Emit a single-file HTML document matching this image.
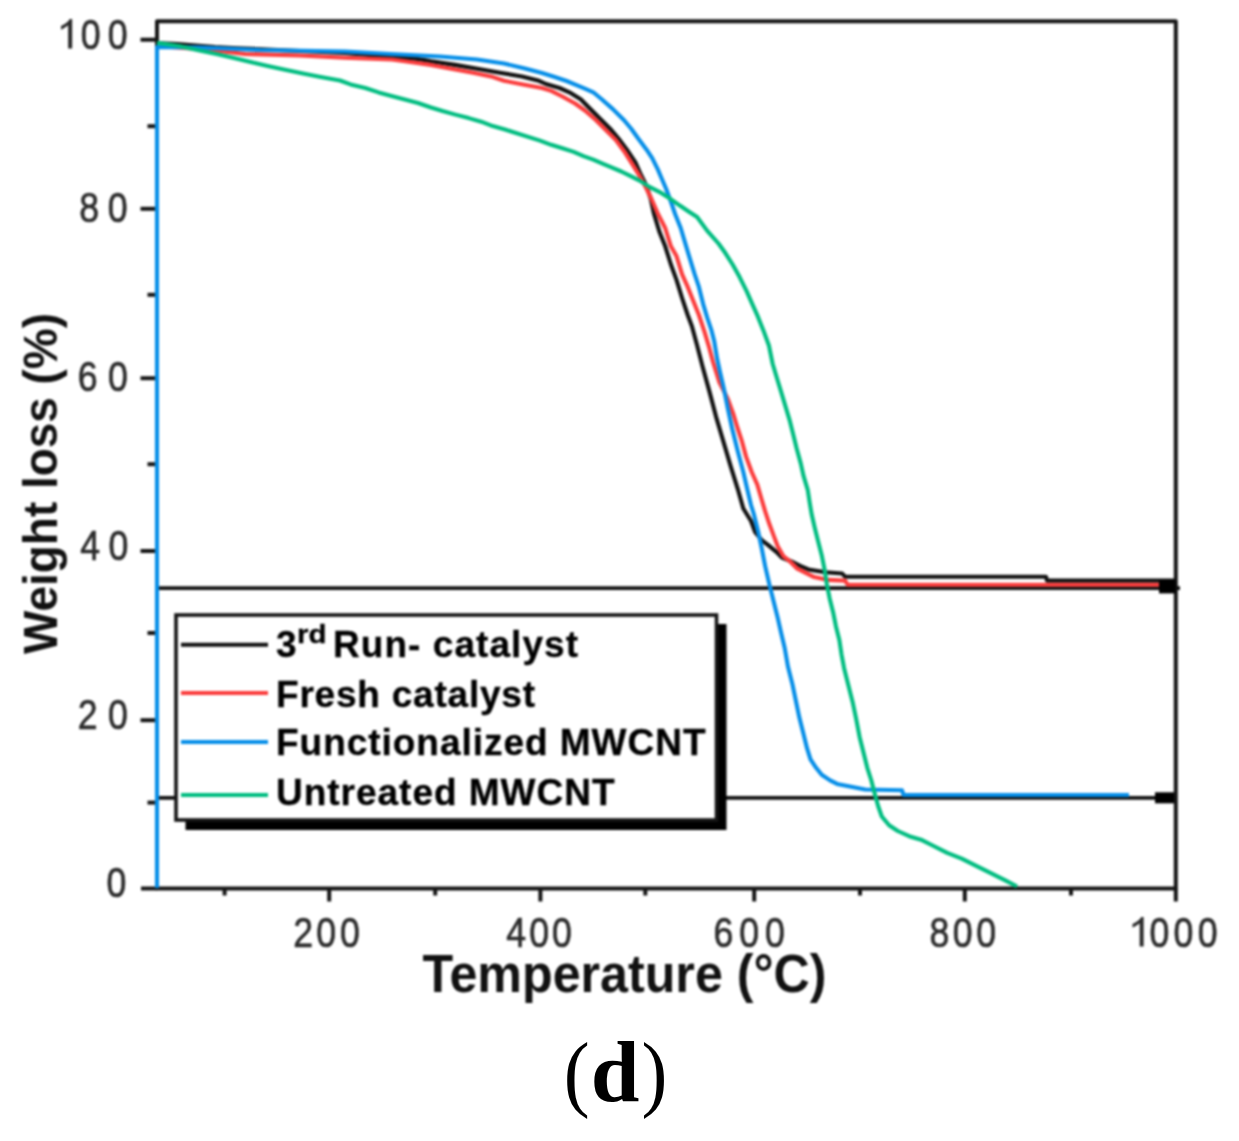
<!DOCTYPE html>
<html><head><meta charset="utf-8"><style>
html,body{margin:0;padding:0;background:#fff;overflow:hidden;}
svg{display:block;position:absolute;left:0;top:0;}
#chart{filter:blur(0.8px);}
</style></head><body>
<svg id="chart" width="1239" height="1141" viewBox="0 0 1239 1141">
<rect width="1239" height="1141" fill="#fff"/>
<g>
<g stroke="#151515" stroke-width="4" fill="none">
<path d="M157,888.5 L157,21.3 L1175.8,21.3 L1175.8,888.5 Z" stroke-linejoin="round"/>
<line x1="140.5" y1="39.7" x2="157" y2="39.7"/><line x1="140.5" y1="208.8" x2="157" y2="208.8"/><line x1="140.5" y1="378.2" x2="157" y2="378.2"/><line x1="140.5" y1="551.0" x2="157" y2="551.0"/><line x1="140.5" y1="720.2" x2="157" y2="720.2"/><line x1="147.5" y1="126.2" x2="157" y2="126.2"/><line x1="147.5" y1="294.8" x2="157" y2="294.8"/><line x1="147.5" y1="464.2" x2="157" y2="464.2"/><line x1="147.5" y1="633.0" x2="157" y2="633.0"/><line x1="147.5" y1="802.6" x2="157" y2="802.6"/><line x1="141" y1="888.5" x2="157" y2="888.5"/><line x1="329.2" y1="888.5" x2="329.2" y2="901.5"/><line x1="540.4" y1="888.5" x2="540.4" y2="901.5"/><line x1="754.2" y1="888.5" x2="754.2" y2="901.5"/><line x1="964.8" y1="888.5" x2="964.8" y2="901.5"/><line x1="1175.8" y1="888.5" x2="1175.8" y2="901.5"/><line x1="224.6" y1="888.5" x2="224.6" y2="895.5"/><line x1="435.2" y1="888.5" x2="435.2" y2="895.5"/><line x1="645.3" y1="888.5" x2="645.3" y2="895.5"/><line x1="860.0" y1="888.5" x2="860.0" y2="895.5"/><line x1="1071.0" y1="888.5" x2="1071.0" y2="895.5"/>
</g>
<g fill="none" stroke-linejoin="round" stroke-linecap="butt">
<line x1="157" y1="588.2" x2="1180" y2="588.2" stroke="#111" stroke-width="3.8"/>
<line x1="157" y1="797.8" x2="1175" y2="797.8" stroke="#111" stroke-width="3.8"/>
<polyline points="157.0,43.0 177.0,44.0 215.0,47.0 233.0,48.0 300.0,51.0 345.0,53.0 392.0,56.9 418.0,59.0 431.0,61.3 455.0,64.9 476.0,68.4 500.0,72.8 522.0,76.4 539.0,80.8 546.0,84.0 559.6,88.0 569.4,92.3 580.7,99.3 589.1,107.7 600.3,118.9 610.1,128.7 618.5,138.5 626.9,149.7 635.4,162.4 641.0,175.0 646.6,186.2 651.0,200.0 654.0,214.0 659.6,232.3 665.2,246.3 670.9,264.5 676.5,279.9 682.1,298.2 687.7,315.0 691.9,326.2 697.0,345.0 702.6,366.8 709.6,392.1 716.6,418.7 723.7,442.6 730.7,466.4 737.7,488.8 743.3,508.5 751.0,521.0 755.2,532.3 762.3,540.7 767.9,544.9 776.3,551.9 781.9,557.5 791.7,561.7 800.1,565.9 808.5,569.4 825.4,572.2 842.2,573.5 845.0,576.6 1046.0,576.8 1047.0,580.6 1175.0,580.6" stroke="#111" stroke-width="4.1"/>
<polyline points="157.0,46.0 211.0,50.0 245.0,54.0 300.0,55.5 345.0,57.8 392.0,59.5 405.0,61.3 431.0,64.9 454.0,69.3 473.0,72.8 491.0,76.4 504.0,80.8 523.0,84.4 542.0,88.0 551.2,90.9 562.4,96.5 575.1,103.5 584.9,110.5 596.1,120.3 605.9,130.1 615.7,139.9 624.1,151.2 631.2,162.4 638.2,173.6 645.2,186.2 651.5,199.0 658.0,214.0 665.2,228.0 670.9,246.3 676.5,256.1 682.1,274.3 687.7,286.9 693.3,301.0 698.9,315.0 704.5,331.8 708.7,345.8 713.0,362.0 719.4,382.3 727.9,399.1 733.5,414.5 737.7,428.5 741.9,441.2 746.1,456.6 751.7,472.0 757.3,484.6 761.5,499.0 765.1,511.2 769.3,523.8 773.5,535.1 777.7,546.3 783.3,556.1 790.3,561.7 797.3,568.7 805.7,572.9 814.1,577.1 828.2,579.9 845.0,580.6 847.8,584.8 1165.0,584.8" stroke="#fb3c3c" stroke-width="4.1"/>
<polyline points="157.0,888.0 157.0,47.0 200.0,47.5 260.0,50.0 345.0,51.5 390.0,54.0 440.0,56.5 477.0,59.5 504.0,63.5 525.0,68.5 542.0,73.0 554.0,76.8 566.6,81.0 576.5,85.2 584.9,88.7 593.3,92.3 601.7,99.3 612.9,109.1 624.1,120.3 631.2,128.7 638.2,138.5 646.6,149.7 652.2,158.2 657.8,169.4 662.0,179.2 666.2,189.0 671.0,202.0 675.1,214.0 680.7,228.0 684.9,242.1 689.1,256.1 694.7,274.3 698.9,286.9 703.1,303.8 707.3,317.8 711.5,330.4 714.3,341.6 717.1,358.5 720.0,372.0 723.7,387.9 727.9,408.9 732.1,428.5 737.7,451.0 743.3,472.0 747.5,490.2 751.0,505.0 753.8,514.0 758.0,530.9 761.6,547.7 765.1,565.9 769.3,584.1 773.5,601.0 777.7,617.8 781.2,633.2 784.7,648.0 788.0,666.8 792.3,683.7 795.8,700.5 799.3,717.3 803.5,734.1 807.0,748.2 810.5,759.4 816.1,767.8 821.7,774.8 830.1,780.4 837.1,783.9 851.2,786.7 865.2,789.5 902.0,790.3 903.6,795.0 1129.0,795.0" stroke="#058ee8" stroke-width="4.1"/>
<polyline points="157.0,42.9 179.0,46.0 198.4,50.2 217.7,54.2 233.9,58.0 251.6,62.3 267.7,66.0 283.9,69.5 303.0,73.5 319.4,76.8 340.0,80.5 350.6,84.4 365.3,88.0 378.6,92.4 391.5,95.9 404.8,99.5 418.0,103.0 431.0,107.5 442.5,111.0 455.4,114.6 468.7,118.1 481.2,121.7 492.7,126.1 505.0,129.5 540.0,140.6 551.2,144.8 562.4,148.3 573.7,151.9 583.5,156.1 593.3,159.6 603.1,163.8 611.5,167.3 621.3,171.5 629.7,175.7 639.6,180.6 649.4,186.9 659.2,191.8 670.4,198.8 680.2,205.8 688.6,211.5 697.1,217.0 707.3,230.9 718.5,243.5 725.5,253.3 732.6,264.5 739.6,277.1 746.6,291.2 752.2,303.8 757.8,316.4 763.4,330.4 769.0,345.8 772.7,364.0 776.9,378.0 781.2,392.1 785.4,406.1 789.6,420.1 793.1,434.1 796.6,448.2 800.8,463.6 803.6,476.2 807.8,490.2 809.6,502.0 811.6,514.0 814.8,528.0 818.3,542.1 821.9,556.1 824.7,570.1 826.8,584.1 829.6,598.2 833.1,612.2 835.9,626.2 839.4,640.2 841.5,654.3 844.1,668.2 848.3,685.1 852.6,701.9 856.1,718.7 859.6,736.9 863.8,753.8 867.3,767.8 871.2,780.0 875.0,794.7 878.2,806.3 881.8,816.5 889.1,825.2 897.8,831.0 910.8,836.8 921.0,839.7 932.6,845.5 947.2,852.8 961.7,858.6 976.2,865.9 990.8,873.2 1005.3,880.4 1017.0,886.5" stroke="#00bd80" stroke-width="4.1"/>
</g>
<rect x="1159" y="580" width="16.5" height="13.4" fill="#000"/>
<rect x="1155" y="792.3" width="19" height="11" fill="#000"/>
<path transform="translate(57.86,48.6) scale(0.01743,-0.02100)" d="M590,0 L820,0 L820,1409 L680,1409 C620,1310 460,1190 180,1075 L180,900 C340,960 480,1030 590,1110 Z" fill="#2b2b2b"/><text transform="translate(80.77,48.6) scale(0.83,1)" font-family="&apos;Liberation Sans&apos;, sans-serif" font-size="43" fill="#2b2b2b" stroke="#2b2b2b" stroke-width="0.7">0</text><text transform="translate(107.85,48.6) scale(0.83,1)" font-family="&apos;Liberation Sans&apos;, sans-serif" font-size="43" fill="#2b2b2b" stroke="#2b2b2b" stroke-width="0.7">0</text><text transform="translate(79.35,221.8) scale(0.83,1)" font-family="&apos;Liberation Sans&apos;, sans-serif" font-size="43" fill="#2b2b2b" stroke="#2b2b2b" stroke-width="0.7">8</text><text transform="translate(107.75,221.8) scale(0.83,1)" font-family="&apos;Liberation Sans&apos;, sans-serif" font-size="43" fill="#2b2b2b" stroke="#2b2b2b" stroke-width="0.7">0</text><text transform="translate(77.79,390.8) scale(0.83,1)" font-family="&apos;Liberation Sans&apos;, sans-serif" font-size="43" fill="#2b2b2b" stroke="#2b2b2b" stroke-width="0.7">6</text><text transform="translate(108.05,390.8) scale(0.83,1)" font-family="&apos;Liberation Sans&apos;, sans-serif" font-size="43" fill="#2b2b2b" stroke="#2b2b2b" stroke-width="0.7">0</text><text transform="translate(80.18,559.5) scale(0.83,1)" font-family="&apos;Liberation Sans&apos;, sans-serif" font-size="43" fill="#2b2b2b" stroke="#2b2b2b" stroke-width="0.7">4</text><text transform="translate(108.55,559.5) scale(0.83,1)" font-family="&apos;Liberation Sans&apos;, sans-serif" font-size="43" fill="#2b2b2b" stroke="#2b2b2b" stroke-width="0.7">0</text><text transform="translate(77.81,728.8) scale(0.83,1)" font-family="&apos;Liberation Sans&apos;, sans-serif" font-size="43" fill="#2b2b2b" stroke="#2b2b2b" stroke-width="0.7">2</text><text transform="translate(108.05,728.8) scale(0.83,1)" font-family="&apos;Liberation Sans&apos;, sans-serif" font-size="43" fill="#2b2b2b" stroke="#2b2b2b" stroke-width="0.7">0</text><text transform="translate(106.51,897.3) scale(0.83,1)" font-family="&apos;Liberation Sans&apos;, sans-serif" font-size="43" fill="#2b2b2b" stroke="#2b2b2b" stroke-width="0.7">0</text><text transform="translate(293.21,946.5) scale(0.83,1)" font-family="&apos;Liberation Sans&apos;, sans-serif" font-size="43" fill="#2b2b2b" stroke="#2b2b2b" stroke-width="0.7">2</text><text transform="translate(316.37,946.5) scale(0.83,1)" font-family="&apos;Liberation Sans&apos;, sans-serif" font-size="43" fill="#2b2b2b" stroke="#2b2b2b" stroke-width="0.7">0</text><text transform="translate(339.95,946.5) scale(0.83,1)" font-family="&apos;Liberation Sans&apos;, sans-serif" font-size="43" fill="#2b2b2b" stroke="#2b2b2b" stroke-width="0.7">0</text><text transform="translate(506.18,946.5) scale(0.83,1)" font-family="&apos;Liberation Sans&apos;, sans-serif" font-size="43" fill="#2b2b2b" stroke="#2b2b2b" stroke-width="0.7">4</text><text transform="translate(529.24,946.5) scale(0.83,1)" font-family="&apos;Liberation Sans&apos;, sans-serif" font-size="43" fill="#2b2b2b" stroke="#2b2b2b" stroke-width="0.7">0</text><text transform="translate(551.95,946.5) scale(0.83,1)" font-family="&apos;Liberation Sans&apos;, sans-serif" font-size="43" fill="#2b2b2b" stroke="#2b2b2b" stroke-width="0.7">0</text><text transform="translate(713.49,946.5) scale(0.83,1)" font-family="&apos;Liberation Sans&apos;, sans-serif" font-size="43" fill="#2b2b2b" stroke="#2b2b2b" stroke-width="0.7">6</text><text transform="translate(739.18,946.5) scale(0.83,1)" font-family="&apos;Liberation Sans&apos;, sans-serif" font-size="43" fill="#2b2b2b" stroke="#2b2b2b" stroke-width="0.7">0</text><text transform="translate(765.05,946.5) scale(0.83,1)" font-family="&apos;Liberation Sans&apos;, sans-serif" font-size="43" fill="#2b2b2b" stroke="#2b2b2b" stroke-width="0.7">0</text><text transform="translate(929.45,946.5) scale(0.83,1)" font-family="&apos;Liberation Sans&apos;, sans-serif" font-size="43" fill="#2b2b2b" stroke="#2b2b2b" stroke-width="0.7">8</text><text transform="translate(952.82,946.5) scale(0.83,1)" font-family="&apos;Liberation Sans&apos;, sans-serif" font-size="43" fill="#2b2b2b" stroke="#2b2b2b" stroke-width="0.7">0</text><text transform="translate(976.35,946.5) scale(0.83,1)" font-family="&apos;Liberation Sans&apos;, sans-serif" font-size="43" fill="#2b2b2b" stroke="#2b2b2b" stroke-width="0.7">0</text><path transform="translate(1129.36,946.5) scale(0.01743,-0.02100)" d="M590,0 L820,0 L820,1409 L680,1409 C620,1310 460,1190 180,1075 L180,900 C340,960 480,1030 590,1110 Z" fill="#2b2b2b"/><text transform="translate(1149.38,946.5) scale(0.83,1)" font-family="&apos;Liberation Sans&apos;, sans-serif" font-size="43" fill="#2b2b2b" stroke="#2b2b2b" stroke-width="0.7">0</text><text transform="translate(1173.56,946.5) scale(0.83,1)" font-family="&apos;Liberation Sans&apos;, sans-serif" font-size="43" fill="#2b2b2b" stroke="#2b2b2b" stroke-width="0.7">0</text><text transform="translate(1197.75,946.5) scale(0.83,1)" font-family="&apos;Liberation Sans&apos;, sans-serif" font-size="43" fill="#2b2b2b" stroke="#2b2b2b" stroke-width="0.7">0</text>
<text x="422.5" y="992" font-family="&apos;Liberation Sans&apos;, sans-serif" font-weight="bold" font-size="53" fill="#111" textLength="404" lengthAdjust="spacingAndGlyphs">Temperature (°C)</text>
<text transform="translate(57.3,654) rotate(-90)" font-family="&apos;Liberation Sans&apos;, sans-serif" font-weight="bold" font-size="48" fill="#111" textLength="341" lengthAdjust="spacingAndGlyphs">Weight loss (%)</text>
<rect x="185.5" y="624" width="541" height="206" fill="#000"/>
<rect x="176" y="615" width="540.5" height="205" fill="#fff" stroke="#151515" stroke-width="3.6"/>
<g stroke-width="4">
<line x1="181" y1="644.8" x2="268" y2="644.8" stroke="#111"/>
<line x1="181" y1="693" x2="268" y2="693" stroke="#fb3c3c"/>
<line x1="181" y1="742.1" x2="268" y2="742.1" stroke="#058ee8"/>
<line x1="181" y1="795" x2="268" y2="795" stroke="#00bd80"/>
</g>
<g font-family="&apos;Liberation Sans&apos;, sans-serif" font-weight="bold" font-size="37" fill="#000" stroke="#000" stroke-width="0.3">
<text x="276" y="657.4" font-weight="bold">3</text>
<text x="297" y="642.6" font-size="25" font-weight="bold" textLength="29.5" lengthAdjust="spacingAndGlyphs">rd</text>
<text x="333" y="657.4" font-weight="bold" textLength="245" lengthAdjust="spacing">Run- catalyst</text>
<text x="276" y="706.8" font-weight="bold" textLength="259" lengthAdjust="spacing">Fresh catalyst</text>
<text x="276" y="755.2" font-weight="bold" textLength="429.5" lengthAdjust="spacing">Functionalized MWCNT</text>
<text x="276" y="804.6" font-weight="bold" textLength="338.5" lengthAdjust="spacing">Untreated MWCNT</text>
</g>
</g>
</svg>
<svg width="1239" height="1141" viewBox="0 0 1239 1141">
<g font-family="&apos;Liberation Serif&apos;, serif" fill="#000">
<text transform="translate(563.7,1101.3) scale(0.91,1)" font-size="85.4">(</text>
<text transform="translate(641.5,1101.3) scale(0.91,1)" font-size="85.4">)</text>
<text x="590.65" y="1100.7" font-size="87.5" font-weight="bold">d</text>
</g>
</svg>
</body></html>
